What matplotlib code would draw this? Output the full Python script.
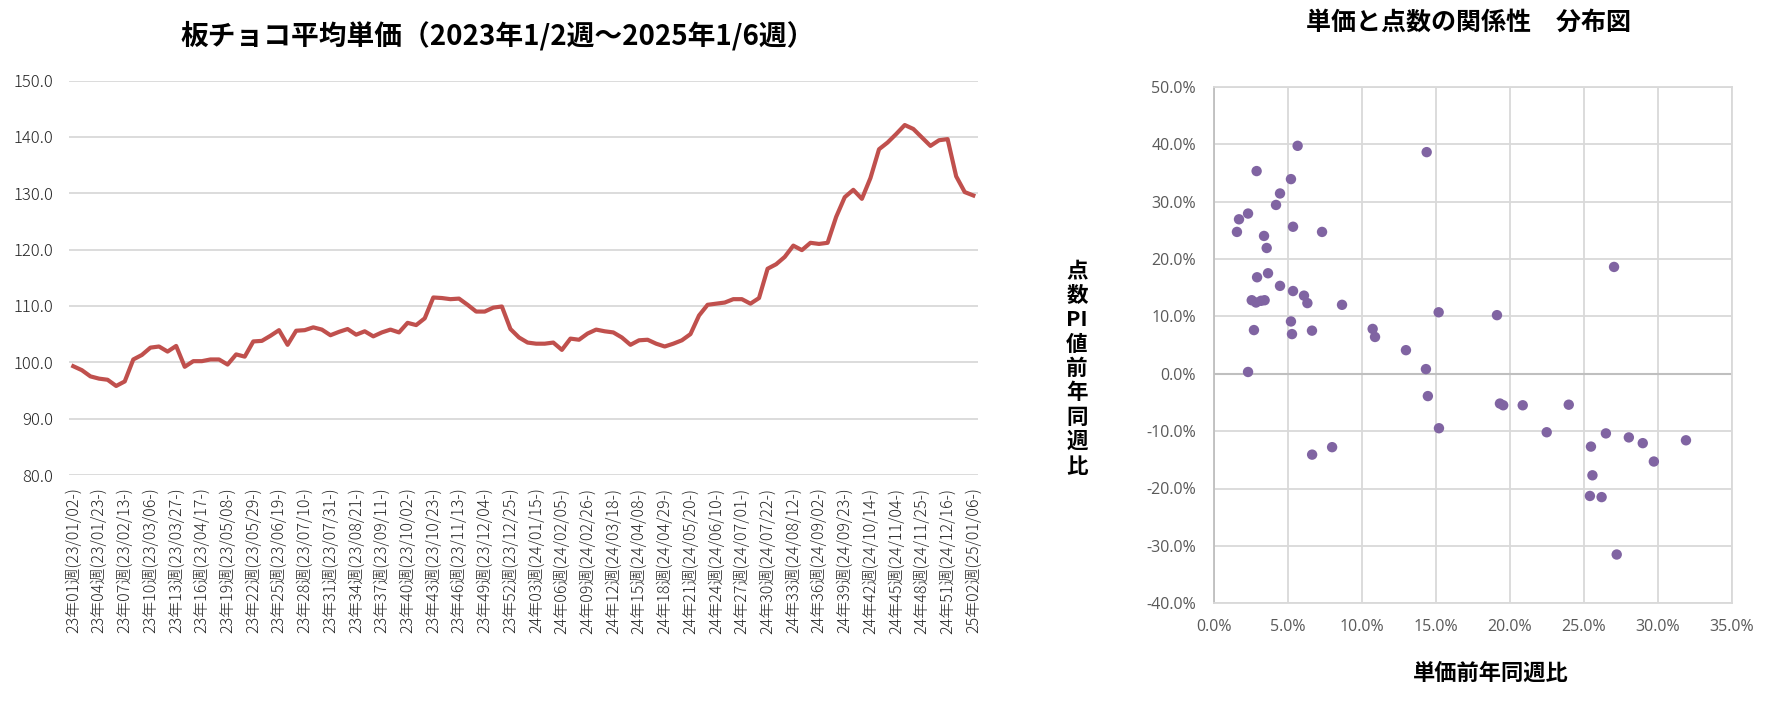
import matplotlib
matplotlib.use("Agg")
import matplotlib.pyplot as plt
from matplotlib.ticker import FuncFormatter, MultipleLocator

plt.rcParams['font.family'] = ['Noto Sans CJK JP', 'DejaVu Sans']

# ---------------- data: left line chart ----------------
line_title = "板チョコ平均単価（2023年1/2週～2025年1/6週）"
avg_price = [
    99.3, 98.6, 97.5, 97.1, 96.9, 95.8, 96.6, 100.5, 101.3, 102.6,
    102.8, 101.9, 102.9, 99.2, 100.2, 100.2, 100.5, 100.5, 99.6, 101.4,
    101.0, 103.7, 103.8, 104.7, 105.7, 103.1, 105.6, 105.7, 106.2, 105.8,
    104.8, 105.4, 105.9, 104.9, 105.5, 104.6, 105.3, 105.8, 105.3, 107.0,
    106.6, 107.8, 111.5, 111.4, 111.2, 111.3, 110.2, 109.0, 109.0, 109.7,
    109.9, 105.9, 104.4, 103.5, 103.3, 103.3, 103.5, 102.2, 104.2, 104.0,
    105.1, 105.8, 105.5, 105.3, 104.4, 103.1, 103.9, 104.0, 103.3, 102.8,
    103.3, 103.9, 105.0, 108.3, 110.2, 110.4, 110.6, 111.2, 111.2, 110.4,
    111.4, 116.6, 117.4, 118.7, 120.7, 119.9, 121.2, 121.0, 121.2, 125.8,
    129.3, 130.6, 129.0, 132.7, 137.8, 139.0, 140.5, 142.1, 141.4, 139.9,
    138.4, 139.4, 139.6, 133.0, 130.2, 129.6,
]
tick_labels = [
    "23年01週(23/01/02-)", "23年04週(23/01/23-)", "23年07週(23/02/13-)",
    "23年10週(23/03/06-)", "23年13週(23/03/27-)", "23年16週(23/04/17-)",
    "23年19週(23/05/08-)", "23年22週(23/05/29-)", "23年25週(23/06/19-)",
    "23年28週(23/07/10-)", "23年31週(23/07/31-)", "23年34週(23/08/21-)",
    "23年37週(23/09/11-)", "23年40週(23/10/02-)", "23年43週(23/10/23-)",
    "23年46週(23/11/13-)", "23年49週(23/12/04-)", "23年52週(23/12/25-)",
    "24年03週(24/01/15-)", "24年06週(24/02/05-)", "24年09週(24/02/26-)",
    "24年12週(24/03/18-)", "24年15週(24/04/08-)", "24年18週(24/04/29-)",
    "24年21週(24/05/20-)", "24年24週(24/06/10-)", "24年27週(24/07/01-)",
    "24年30週(24/07/22-)", "24年33週(24/08/12-)", "24年36週(24/09/02-)",
    "24年39週(24/09/23-)", "24年42週(24/10/14-)", "24年45週(24/11/04-)",
    "24年48週(24/11/25-)", "24年51週(24/12/16-)", "25年02週(25/01/06-)",
]
tick_step = 3
y_ticks_line = [80, 90, 100, 110, 120, 130, 140, 150]

# ---------------- data: right scatter ----------------
scatter_title = "単価と点数の関係性\u3000分布図"
scatter_xlabel = "単価前年同週比"
scatter_ylabel = "点数PI値前年同週比"
price_yoy = [
    5.65, 14.37, 2.88, 5.20, 4.46, 4.19, 2.30, 1.69, 1.55, 5.34,
    7.30, 3.38, 3.56, 3.65, 2.91, 4.46, 5.34, 6.08, 6.31, 2.55,
    2.84, 3.18, 3.42, 8.65, 15.18, 5.20, 2.70, 5.27, 6.62, 10.72,
    10.88, 12.97, 14.32, 2.30, 19.12, 27.03, 6.63, 7.98, 14.45, 15.20,
    19.32, 19.54, 20.86, 23.97, 22.48, 26.48, 28.03, 28.97, 31.89, 25.47,
    29.72, 25.57, 25.40, 26.19, 27.21,
]
qty_yoy = [
    39.7, 38.6, 35.3, 33.9, 31.4, 29.4, 27.9, 26.9, 24.7, 25.6,
    24.7, 24.0, 21.9, 17.5, 16.8, 15.3, 14.4, 13.6, 12.3, 12.8,
    12.4, 12.7, 12.8, 12.0, 10.7, 9.1, 7.6, 6.9, 7.5, 7.8,
    6.4, 4.1, 0.8, 0.3, 10.2, 18.6, -14.1, -12.8, -3.9, -9.5,
    -5.2, -5.5, -5.5, -5.4, -10.2, -10.4, -11.1, -12.1, -11.6, -12.7,
    -15.3, -17.7, -21.3, -21.5, -31.5,
]

W, H = 1778, 706
fig = plt.figure(figsize=(W / 100, H / 100), dpi=100)
fig.patch.set_facecolor("white")

grid_c = "#D9D9D9"

# ---------------- left chart ----------------
ax1 = fig.add_axes([69 / W, 1 - 475 / H, (977.6 - 69) / W, (475 - 80.5) / H])
x_idx = list(range(len(avg_price)))
ax1.plot(x_idx, avg_price, color="#C0504D", lw=3.0, solid_joinstyle="round", zorder=3)
ax1.set_xlim(-0.5, len(avg_price) - 0.5)
ax1.set_ylim(y_ticks_line[0], y_ticks_line[-1])
ax1.set_yticks(y_ticks_line)
ax1.yaxis.set_major_formatter(FuncFormatter(lambda v, p: f"{v:.1f}"))
ax1.grid(axis="y", color=grid_c, lw=1.3)
ax1.set_axisbelow(True)
ax1.set_xticks(list(range(0, len(avg_price), tick_step)))
ax1.set_xticklabels(tick_labels, rotation=90, ha="center", va="top")
for s in ax1.spines.values():
    s.set_visible(False)
ax1.tick_params(axis="both", length=0)
ax1.tick_params(axis="y", pad=11.5, labelsize=12, labelcolor="#262626")
ax1.tick_params(axis="x", pad=9, labelsize=11.5, labelcolor="#262626")
for lab in ax1.get_yticklabels() + ax1.get_xticklabels():
    lab.set_fontweight("light")

fig.text(498 / W, 1 - 36 / H, line_title, ha="center", va="center",
         fontsize=20, fontweight="bold", color="black")

# ---------------- right scatter ----------------
ax2 = fig.add_axes([1214 / W, 1 - 603.3 / H, (1732 - 1214) / W, (603.3 - 86.7) / H])
ax2.scatter(price_yoy, qty_yoy, s=56, color="#8064A2", edgecolors="none", zorder=3)
ax2.set_xlim(0, 35)
ax2.set_ylim(-40, 50)
ax2.xaxis.set_major_locator(MultipleLocator(5))
ax2.yaxis.set_major_locator(MultipleLocator(10))
pct = FuncFormatter(lambda v, p: f"{v:.1f}%")
ax2.xaxis.set_major_formatter(pct)
ax2.yaxis.set_major_formatter(pct)
ax2.grid(True, color=grid_c, lw=1.3)
ax2.set_axisbelow(True)
ax2.axhline(0, color="#BFBFBF", lw=1.5, zorder=2)
for s in ax2.spines.values():
    s.set_color(grid_c)
    s.set_linewidth(1.3)
ax2.spines["left"].set_color("#BFBFBF")
ax2.tick_params(axis="both", length=0, labelsize=11.5, labelcolor="#595959")
ax2.tick_params(axis="y", pad=13)
ax2.tick_params(axis="x", pad=11)
for lab in ax2.get_xticklabels() + ax2.get_yticklabels():
    lab.set_fontfamily(["Open Sans", "DejaVu Sans"])

fig.text(1469 / W, 1 - 23 / H, scatter_title, ha="center", va="center",
         fontsize=18, fontweight="bold", color="black")
fig.text(1491 / W, 1 - 673 / H, scatter_xlabel, ha="center", va="center",
         fontsize=16, fontweight="bold", color="black")
fig.text(1077 / W, 1 - 368.5 / H, "\n".join(["点", "数", "PI", "値", "前", "年", "同", "週", "比"]),
         ha="center", va="center", fontsize=15.5, fontweight="bold",
         color="black", linespacing=1.2)

fig.savefig("out.png", dpi=100, facecolor="white")
